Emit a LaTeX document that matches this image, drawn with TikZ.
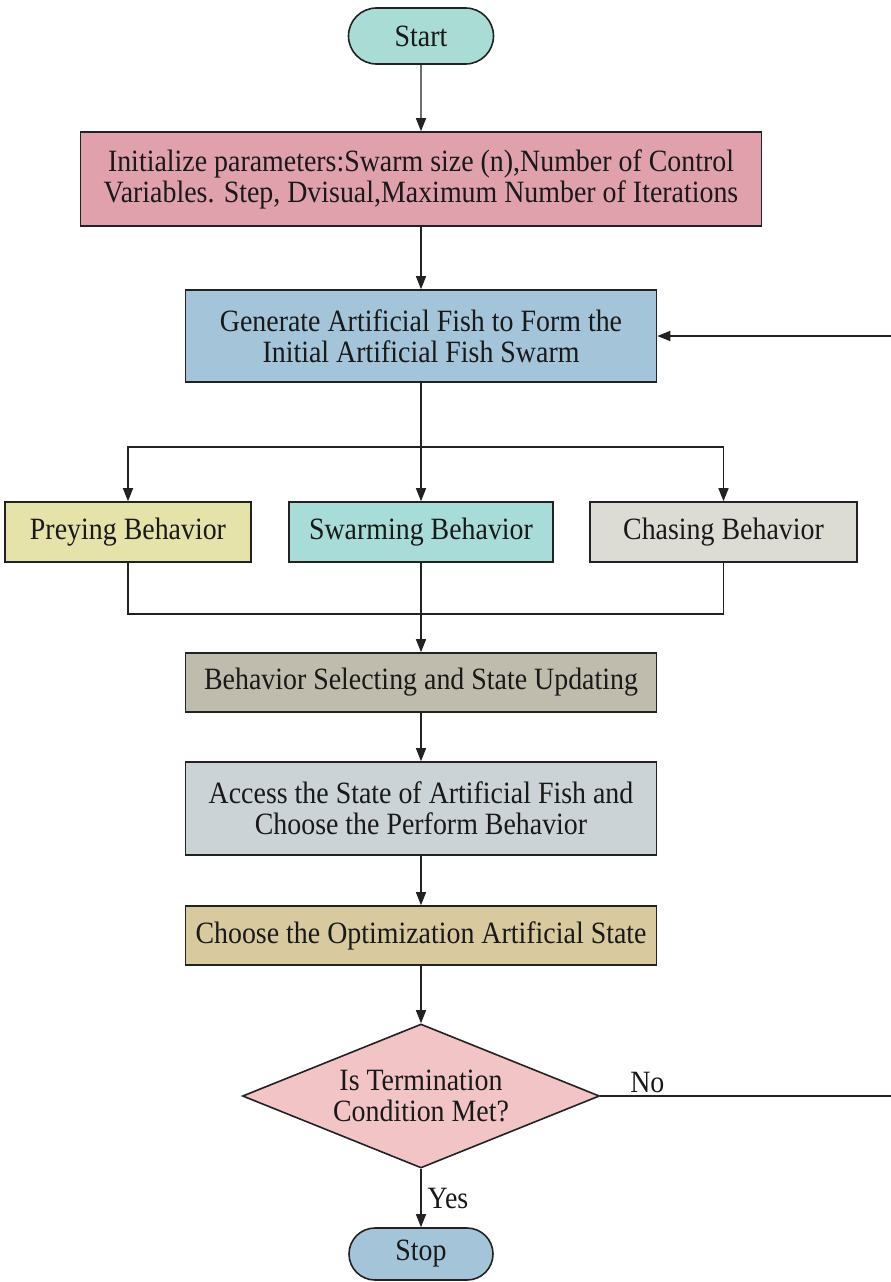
\documentclass[tikz,border=0pt]{standalone}
\usepackage{fontspec}
\setmainfont{Liberation Serif}
\newfontfamily\tnr{Liberation Serif}[FakeStretch=0.9]
\usetikzlibrary{shapes.geometric,shapes.misc,arrows.meta}
\definecolor{lineC}{HTML}{222222}
\definecolor{cStart}{HTML}{A8DCD4}
\definecolor{cInit}{HTML}{E0A1AD}
\definecolor{cGen}{HTML}{A4C4DA}
\definecolor{cPrey}{HTML}{E6E3AA}
\definecolor{cSwarm}{HTML}{A8DCD8}
\definecolor{cChase}{HTML}{DCDCD5}
\definecolor{cSel}{HTML}{BFBCAE}
\definecolor{cAcc}{HTML}{CCD3D6}
\definecolor{cOpt}{HTML}{D8CA9E}
\definecolor{cDec}{HTML}{F2C4C6}
\begin{document}
\begin{tikzpicture}[x=1pt,y=-1pt,
  font=\tnr\fontsize{31}{31}\selectfont,
  every node/.style={text=black!90},
  box/.style={draw=lineC,line width=1.6pt,rectangle,inner sep=0pt,align=center},
  pill/.style={draw=lineC,line width=1.6pt,rounded rectangle,inner sep=0pt,align=center},
  dec/.style={draw=lineC,line width=1.6pt,diamond,aspect=2.48,inner sep=0pt,align=center},
  conn/.style={draw=lineC,line width=1.4pt},
  arr/.style={conn,-{Triangle[length=13pt,width=10pt]}},
  lbl/.style={inner sep=0pt}
]
\useasboundingbox (0,0) rectangle (891,1282);
\fill[white] (0,0) rectangle (891,1282);

\node[pill,fill=cStart,minimum width=145pt,minimum height=56pt] (start) at (421,36) {Start};
\node[box,fill=cInit,minimum width=681pt,minimum height=94pt] (init) at (421,179)
  {Initialize parameters:Swarm size (n),Number of Control\\Variables. Step, Dvisual,Maximum Number of Iterations};
\node[box,fill=cGen,minimum width=471pt,minimum height=92pt] (gen) at (421,336)
  {Generate Artificial Fish to Form the\\Initial Artificial Fish Swarm};
\node[box,fill=cPrey,minimum width=246pt,minimum height=60pt] (prey) at (128,532) {Preying Behavior};
\node[box,fill=cSwarm,minimum width=264pt,minimum height=60pt] (swarm) at (421,532) {Swarming Behavior};
\node[box,fill=cChase,minimum width=267pt,minimum height=60pt] (chase) at (723.5,532) {Chasing Behavior};
\node[box,fill=cSel,minimum width=471pt,minimum height=59pt] (sel) at (421,682.5) {Behavior Selecting and State Updating};
\node[box,fill=cAcc,minimum width=471pt,minimum height=93pt] (acc) at (421,808.5)
  {Access the State of Artificial Fish and\\Choose the Perform Behavior};
\node[box,fill=cOpt,minimum width=471pt,minimum height=59pt] (opt) at (421,935.5) {Choose the Optimization Artificial State};
\node[dec,fill=cDec,minimum width=357pt,minimum height=144pt] (dec) at (421,1096)
  {Is Termination\\Condition Met?};
\node[pill,fill=cGen,minimum width=144pt,minimum height=52pt] (stop) at (421,1254) {Stop};

\coordinate (split) at (421,447);
\coordinate (merge) at (421,614);
\coordinate (loopx) at (894,0);

\draw[arr] (start) -- (init);
\draw[arr] (init) -- (gen);
\draw[conn] (gen) -- (split);
\draw[arr] (split) -| (prey.north);
\draw[arr] (split) -| (chase.north);
\draw[arr] (split) -- (swarm);
\draw[conn] (prey.south) |- (merge);
\draw[conn] (chase.south) |- (merge);
\draw[conn] (swarm) -- (merge);
\draw[arr] (merge) -- (sel);
\draw[arr] (sel) -- (acc);
\draw[arr] (acc) -- (opt);
\draw[arr] (opt) -- (dec);
\draw[arr] (dec) -- node[lbl,right=6pt] {Yes} (stop);
\draw[arr] (dec.east) -- node[lbl,above=3pt,pos=0.16] {No} (dec.east -| loopx) |- (gen.east);
\end{tikzpicture}
\end{document}
